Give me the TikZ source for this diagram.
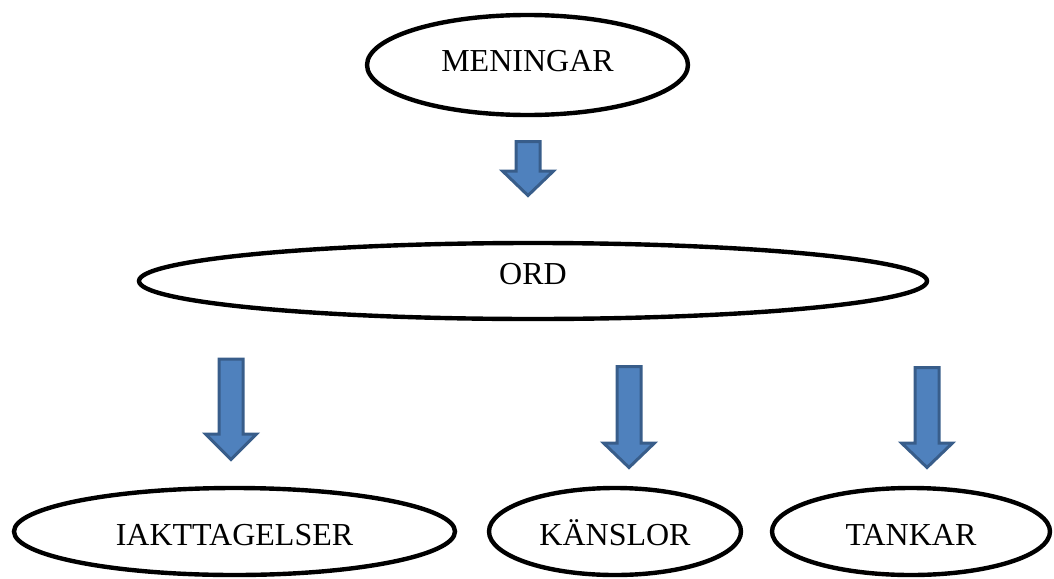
\documentclass[tikz,border=0pt]{standalone}
\usepackage{fontspec}
\setmainfont{Liberation Serif}
\usetikzlibrary{shapes.geometric}

\definecolor{arrowfill}{HTML}{4F81BD}
\definecolor{arrowline}{HTML}{385D8A}

% block arrow: x centre, top, start of head, tip
\newcommand{\blockarrow}[4]{%
  \draw[blockarr] (#1-12,#2) -- (#1+12,#2) -- (#1+12,#3) -- (#1+25.5,#3)
    -- (#1,#4) -- (#1-25.5,#3) -- (#1-12,#3) -- cycle;}

\begin{document}
\begin{tikzpicture}[
        x=0.5pt, y=-0.5pt,
        oval/.style={draw, ellipse, line width=2.2pt, inner sep=0pt, text height=11pt, text depth=0pt,
          font=\fontsize{16}{19}\selectfont},
        blockarr/.style={draw=arrowline, fill=arrowfill, line width=1.5pt},
      ]
        \useasboundingbox (0,0) rectangle (1054,578);

        % ovals
        \node[oval, minimum width=160.5pt, minimum height=50pt, text depth=4.5pt] (meningar) at (527.5,65) {MENINGAR};
        \node[oval, minimum width=394pt, minimum height=38pt, text depth=8pt] (ord) at (533,281) {ORD};
        \node[oval, minimum width=220.5pt, minimum height=43.5pt, text height=14pt] (iakttagelser) at (234.5,531.5) {IAKTTAGELSER};
        \node[oval, minimum width=126pt, minimum height=43.5pt, text height=14pt] (kanslor) at (615,531.5) {KÄNSLOR};
        \node[oval, minimum width=139pt, minimum height=43.5pt, text height=14pt] (tankar) at (911,531.5) {TANKAR};

        % arrows
        \blockarrow{528}{141.5}{171}{195.5}
        \blockarrow{231}{359}{434}{459.5}
        \blockarrow{629}{366.5}{443}{467.5}
        \blockarrow{927}{367.5}{443}{467.5}
      \end{tikzpicture}
\end{document}
